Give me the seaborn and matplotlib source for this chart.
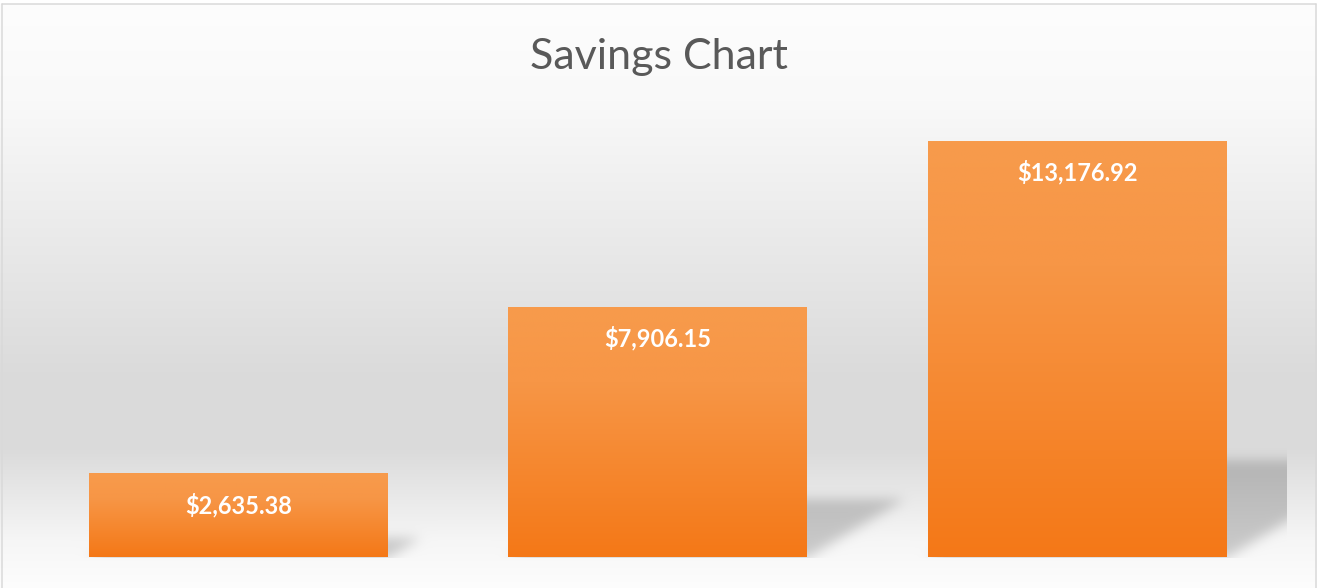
import numpy as np
import matplotlib
matplotlib.use("Agg")
import matplotlib.pyplot as plt
from matplotlib.lines import Line2D
from matplotlib.colors import to_rgb
import seaborn as sns
import pandas as pd

# ---- data ----
categories = ["Period 1", "Period 2", "Period 3"]
savings = [2635.38, 7906.15, 13176.92]
value_labels = ["$2,635.38", "$7,906.15", "$13,176.92"]
title = "Savings Chart"

W, H, DPI = 1317, 588, 100
sns.set_theme(style="white")
plt.rcParams['font.family'] = ['Lato', 'DejaVu Sans']

fig = plt.figure(figsize=(W / DPI, H / DPI), dpi=DPI)
bg_ax = fig.add_axes([0, 0, 1, 1], zorder=0)
bg_ax.set_axis_off()

ax = fig.add_axes([28.75 / W, (H - 557) / H, (1286.7 - 28.75) / W, 441.7 / H], zorder=1)
ax.patch.set_alpha(0)

df = pd.DataFrame({"category": categories, "savings": savings})
sns.barplot(data=df, x="category", y="savings", width=0.713, color="#f79646",
            saturation=1, linewidth=0, edgecolor="none", ax=ax)
ax.set_ylim(0, 14000)
ax.set_xlim(-0.5, 2.5)
ax.set_axis_off()

# gradient fill on bars
def lerp_colors(stops, n):
    pos = np.array([s[0] for s in stops])
    cols = np.array([to_rgb(s[1]) for s in stops])
    t = np.linspace(0, 1, n)
    return np.stack([np.interp(t, pos, cols[:, i]) for i in range(3)], axis=1)

bar_grad = lerp_colors([(0, "#f79b4c"), (0.3, "#f79646"), (1.0, "#f47817")], 256)
for p in ax.patches:
    p.set_linewidth(0)
    x0 = p.get_x(); x1 = x0 + p.get_width(); h = p.get_height()
    img = bar_grad[:, None, :].repeat(2, axis=1)
    ax.imshow(img, extent=[x0, x1, 0, h], aspect='auto', zorder=p.get_zorder() + 0.1,
              interpolation='bilinear')
ax.set_ylim(0, 14000)
ax.set_xlim(-0.5, 2.5)

for p, lab in zip(ax.patches, value_labels):
    cx = p.get_x() + p.get_width() / 2
    ax.annotate(lab, (cx, p.get_height()), xytext=(0, -31 * 72 / DPI),
                textcoords="offset points", ha='center', va='center',
                color='white', fontweight='bold', fontsize=17, zorder=5)

fig.canvas.draw()

# background gradient (figure rows, top -> bottom)
rows = np.arange(H)
stops_y = [0, 100, 200, 300, 380, 450, 500, 540, 588]
stops_v = [253, 249, 238, 227, 218, 219, 234, 246, 253]
bgv = np.interp(rows, stops_y, stops_v) / 255.0
bg = np.repeat(bgv[:, None], W, axis=1)

# perspective shadows
shadow = np.zeros((H, W))
cols = np.arange(W)[None, :]
rr = rows[:, None]
axbb = ax.get_window_extent()
for p in ax.patches:
    bb = p.get_window_extent()
    x0, x1 = bb.x0, bb.x1
    bottom = H - bb.y0
    top = H - bb.y1
    hgt = bottom - top
    sh = hgt * 0.235
    t = bottom - rr
    inside = (t >= 0) & (t <= sh) & (cols >= x0 + t / 0.6) & (cols <= x1 + t / 0.6)
    shadow = np.maximum(shadow, inside.astype(float))

def blur(a, sigma):
    r = int(3 * sigma)
    k = np.exp(-0.5 * (np.arange(-r, r + 1) / sigma) ** 2)
    k /= k.sum()
    a = np.apply_along_axis(lambda v: np.convolve(v, k, mode='same'), 0, a)
    a = np.apply_along_axis(lambda v: np.convolve(v, k, mode='same'), 1, a)
    return a

shadow = blur(shadow, 6)
clipmask = (cols <= axbb.x1) & (rr <= H - axbb.y0)
shadow = shadow * clipmask
bg = bg * (1 - 0.19 * shadow)
bg_img = np.repeat(bg[:, :, None], 3, axis=2)
bg_ax.imshow(bg_img, extent=[0, 1, 0, 1], aspect='auto', interpolation='nearest')
bg_ax.set_xlim(0, 1); bg_ax.set_ylim(0, 1)

# border
bc = "#d9d9d9"
for (xa, ya), (xb, yb) in [((1.5, 3.5), (1315.5, 3.5)), ((1.5, 3.5), (1.5, 600)),
                           ((1315.5, 3.5), (1315.5, 600))]:
    fig.add_artist(Line2D([xa / W, xb / W], [1 - ya / H, 1 - yb / H],
                          color=bc, lw=1.5 * 72 / DPI, transform=fig.transFigure))
fig.patches.append(plt.Rectangle((0, 1 - 3 / H), 1, 3 / H, transform=fig.transFigure,
                                 color="white", zorder=0))

fig.text(0.5, 1 - 57 / H, title, ha='center', va='center', fontsize=31, color='#595959')

fig.savefig("out.png", dpi=DPI)
